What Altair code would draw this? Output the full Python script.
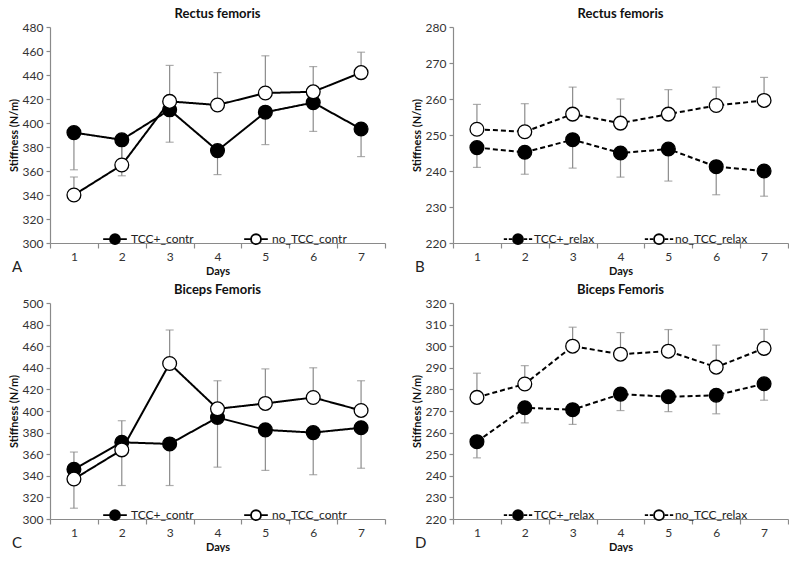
import altair as alt
import pandas as pd

days = [1, 2, 3, 4, 5, 6, 7]

# Panel A: Rectus femoris, contraction
a_tcc = [392, 386, 411, 377, 409, 417, 395]
a_tcc_err = [361, 356, 384, 357, 382, 393, 372]
a_no = [340, 365, 418, 415, 425, 426, 442]
a_no_err = [355, 390, 448, 442, 456, 447, 459]

# Panel B: Rectus femoris, relaxation
b_tcc = [246.5, 245.2, 248.7, 245.0, 246.1, 241.2, 240.0]
b_tcc_err = [241.0, 239.1, 240.8, 238.3, 237.2, 233.4, 233.0]
b_no = [251.6, 250.9, 255.8, 253.3, 255.8, 258.2, 259.6]
b_no_err = [258.5, 258.7, 263.3, 260.0, 262.6, 263.3, 266.0]

# Panel C: Biceps Femoris, contraction
c_tcc = [346, 371, 369.5, 394, 382.5, 380, 384.5]
c_tcc_err = [362, 391, 331, 348, 345, 341, 347]
c_no = [337, 364, 444, 402, 407, 412.5, 400.5]
c_no_err = [310, 331, 475, 428, 439, 440, 428]

# Panel D: Biceps Femoris, relaxation
d_tcc = [255.8, 271.5, 270.6, 277.8, 276.6, 277.3, 282.6]
d_tcc_err = [248.3, 264.5, 263.8, 270.2, 269.7, 268.7, 275.0]
d_no = [276.3, 282.5, 300.0, 296.3, 297.7, 290.3, 299.0]
d_no_err = [287.5, 291.0, 308.8, 306.3, 307.7, 300.5, 307.8]

FONT = "Lato"
W, H = 335, 216

SOLID_SYM = "M-1,0L-0.42,0M0.42,0L1,0M0.42,0A0.42,0.42,0,1,1,-0.42,0A0.42,0.42,0,1,1,0.42,0Z"
DASH_SYM = ("M-1.2,0L-0.92,0M-0.78,0L-0.5,0M0.5,0L0.78,0M0.92,0L1.2,0"
            "M0.42,0A0.42,0.42,0,1,1,-0.42,0A0.42,0.42,0,1,1,0.42,0Z")


def panel(title, letter, tcc, tcc_err, no, no_err, names, ymin, ymax, step, dashed):
    df = pd.DataFrame({
        "Day": [str(d) for d in days] * 2,
        "Series": [names[0]] * 7 + [names[1]] * 7,
        "Value": tcc + no,
        "Err": tcc_err + no_err,
    })
    yvals = list(range(ymin, ymax + 1, step))
    x = alt.X("Day:O", title="Days",
              scale=alt.Scale(paddingInner=0, paddingOuter=0),
              axis=alt.Axis(labelAngle=0, ticks=True, tickBand="extent", tickSize=5,
                            tickWidth=1.2, labelPadding=3, titlePadding=3))
    yscale = alt.Scale(domain=[ymin, ymax], nice=False, zero=False)
    yaxis = alt.Axis(values=yvals, grid=False, ticks=True, tickSize=4,
                     tickWidth=1.2, labelPadding=3, titlePadding=3,
                     labelOverlap=False, labelSeparation=0)
    y = alt.Y("Value:Q", title="Stiffness (N/m)", scale=yscale, axis=yaxis)
    base = alt.Chart(df)
    err = base.mark_rule(color="#8c8c8c", strokeWidth=1.2).encode(
        x=x, y=y, y2="Err:Q")
    cap = base.mark_tick(color="#8c8c8c", thickness=1.2, size=8).encode(
        x=x, y=alt.Y("Err:Q", title="Stiffness (N/m)", scale=yscale, axis=yaxis))
    line = base.mark_line(color="black", strokeWidth=2,
                          strokeDash=[5, 3] if dashed else [1, 0]).encode(
        x=x, y=y, detail="Series:N")
    pts = base.mark_point(shape="circle", size=190, stroke="black", strokeWidth=1.3,
                          opacity=1, fillOpacity=1, filled=False).encode(
        x=x, y=y,
        fill=alt.Fill("Series:N",
                      scale=alt.Scale(domain=names, range=["black", "white"]),
                      legend=alt.Legend(title=None, orient="none", direction="horizontal",
                                        legendX=52, legendY=H - 17,
                                        symbolType=DASH_SYM if dashed else SOLID_SYM,
                                        symbolSize=560, symbolStrokeColor="black",
                                        symbolStrokeWidth=1.8,
                                        labelFont=FONT, labelFontSize=12,
                                        labelColor="#222", columnPadding=46,
                                        labelOffset=3)))
    lab = alt.Chart(pd.DataFrame({"t": [letter]})).mark_text(
        font=FONT, fontSize=15, align="left", baseline="middle", color="#222").encode(
        text="t:N", x=alt.value(-38), y=alt.value(H + 24))
    return alt.layer(err, cap, line, pts, lab).properties(
        width=W, height=H,
        title=alt.TitleParams(title, font=FONT, fontSize=13, fontWeight="bold",
                              color="#111", offset=0))


pa = panel("Rectus femoris", "A", a_tcc, a_tcc_err, a_no, a_no_err,
           ["TCC+_contr", "no_TCC_contr"], 300, 480, 20, False)
pb = panel("Rectus femoris", "B", b_tcc, b_tcc_err, b_no, b_no_err,
           ["TCC+_relax", "no_TCC_relax"], 220, 280, 10, True)
pc = panel("Biceps Femoris", "C", c_tcc, c_tcc_err, c_no, c_no_err,
           ["TCC+_contr", "no_TCC_contr"], 300, 500, 20, False)
pd_ = panel("Biceps Femoris", "D", d_tcc, d_tcc_err, d_no, d_no_err,
            ["TCC+_relax", "no_TCC_relax"], 220, 320, 10, True)

top = alt.hconcat(pa, pb, spacing=25).resolve_scale(fill="independent")
bottom = alt.hconcat(pc, pd_, spacing=25).resolve_scale(fill="independent")
chart = alt.vconcat(top, bottom, spacing=8).resolve_scale(fill="independent").configure(
    padding=0
).configure_view(stroke=None).configure_axis(
    labelFont=FONT, titleFont=FONT, labelFontSize=12, titleFontSize=11,
    titleFontWeight="bold", labelColor="#333", titleColor="#111",
    domainColor="#8a8a8a", tickColor="#8a8a8a", domainWidth=1.2
).configure_axisY(labelOverlap=False)

chart.save("out.html", embed_options={"renderer": "svg", "actions": False})
